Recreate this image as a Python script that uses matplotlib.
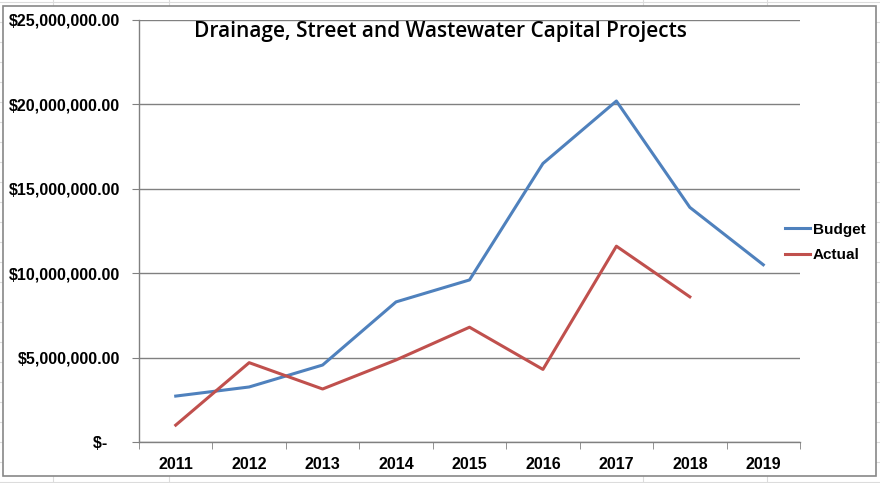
import numpy as np
import matplotlib
matplotlib.use('Agg')
from matplotlib import pyplot as plt
from matplotlib.patches import Rectangle
from matplotlib.lines import Line2D

years = ['2011', '2012', '2013', '2014', '2015', '2016', '2017', '2018', '2019']
budget = [2.72e6, 3.26e6, 4.56e6, 8.3e6, 9.6e6, 16.5e6, 20.2e6, 13.9e6, 10.5e6]
actual = [1.0e6, 4.7e6, 3.14e6, 4.86e6, 6.8e6, 4.3e6, 11.6e6, 8.6e6]
y_ticks = [0, 5e6, 10e6, 15e6, 20e6, 25e6]
y_labels = ['$-   ', '$5,000,000.00', '$10,000,000.00', '$15,000,000.00',
            '$20,000,000.00', '$25,000,000.00']

W, H = 880, 483
fig = plt.figure(figsize=(W / 100, H / 100), dpi=100)
fig.patch.set_facecolor('white')

# spreadsheet cell lines behind the chart
for x in [53, 169, 643, 767]:
    fig.add_artist(Line2D([x / W, x / W], [0, 1], color='#dcdcdc', lw=0.8,
                          zorder=-3))
for y in range(2, H, 20):
    fig.add_artist(Line2D([0, 1], [1 - y / H, 1 - y / H], color='#dcdcdc',
                          lw=0.8, zorder=-3))
fig.add_artist(Rectangle((3 / W, 1 - 476 / H), 873 / W, 470 / H,
                         facecolor='white', edgecolor='#888888', lw=1.2,
                         zorder=-2))

ax = fig.add_axes([139 / W, 1 - 442 / H, 661 / W, 422 / H])
ax.set_facecolor('none')
x = np.arange(len(years))
ax.plot(x, budget, color='#4F81BD', lw=2.2, label='Budget')
ax.plot(x[:len(actual)], actual, color='#C0504D', lw=2.2, label='Actual')

ax.set_xlim(-0.5, len(years) - 0.5)
ax.set_ylim(0, 25e6)
ax.set_yticks(y_ticks)
ax.set_yticklabels(y_labels)
ax.set_xticks(x)
ax.set_xticklabels(years)
ax.set_xticks(np.arange(-0.5, len(years)), minor=True)
ax.tick_params(axis='x', which='major', length=0, pad=11)
ax.tick_params(axis='x', which='minor', length=5, color='#808080')
ax.tick_params(axis='y', length=5, color='#808080', pad=8.5)
for lab in ax.get_xticklabels() + ax.get_yticklabels():
    lab.set_fontfamily('Liberation Sans')
    lab.set_fontweight('bold')
    lab.set_fontsize(11.5)
ax.grid(axis='y', color='#808080', lw=1.0)
ax.set_axisbelow(True)
for s in ['top', 'right']:
    ax.spines[s].set_visible(False)
for s in ['left', 'bottom']:
    ax.spines[s].set_color('#808080')
    ax.spines[s].set_linewidth(1.0)

fig.text(440 / W, 1 - 32 / H, 'Drainage, Street and Wastewater Capital Projects',
         ha='center', va='center', fontsize=15, fontfamily='Open Sans',
         fontweight='semibold')

leg = fig.legend(loc='upper left', bbox_to_anchor=(771 / W, 1 - 209 / H),
                 frameon=False, handlelength=1.65, handletextpad=0.2,
                 labelspacing=0.75,
                 prop={'family': 'Liberation Sans', 'weight': 'bold', 'size': 11})

fig.savefig('out.png', dpi=100)
